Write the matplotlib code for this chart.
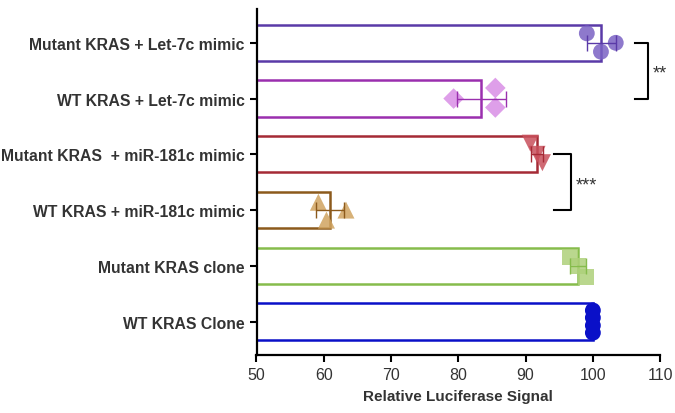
import numpy as np
import matplotlib.pyplot as plt

plt.rcParams['font.family'] = ['Liberation Sans', 'DejaVu Sans']

groups = [
    "Mutant KRAS + Let-7c mimic",
    "WT KRAS + Let-7c mimic",
    "Mutant KRAS  + miR-181c mimic",
    "WT KRAS + miR-181c mimic",
    "Mutant KRAS clone",
    "WT KRAS Clone",
]
values = [
    [99.1, 101.2, 103.4],
    [79.3, 85.5, 85.5],
    [90.7, 91.7, 92.5],
    [59.2, 60.4, 63.3],
    [96.6, 97.8, 99.0],
    [100.0, 100.0, 100.0, 100.0],
]
# vertical spread of the dots inside each bar (category units)
spread = [
    [-0.17, 0.16, 0.0],
    [0.0, -0.19, 0.16],
    [-0.2, 0.0, 0.15],
    [-0.14, 0.18, 0.0],
    [-0.16, 0.0, 0.2],
    [-0.2, -0.07, 0.07, 0.2],
]
edge_colors = ["#5a3aa8", "#9a2fae", "#a52a35", "#8c5a1c", "#86bc4c", "#0a10c8"]
dot_colors = ["#7a62c4", "#d98ee6", "#c8505c", "#d0a460", "#aed07a", "#0a10c8"]
markers = ["o", "D", "v", "^", "s", "o"]
sizes = [130, 110, 150, 150, 130, 130]

fig, ax = plt.subplots(figsize=(6.75, 4.14), dpi=100)
fig.subplots_adjust(left=0.38, right=0.978, top=0.975, bottom=0.14)

ypos = np.arange(len(groups))
for i, (vals, off) in enumerate(zip(values, spread)):
    vals = np.array(vals)
    mean = vals.mean()
    sd = vals.std(ddof=1)
    ax.barh(ypos[i], mean - 50, left=50, height=0.65, facecolor="white",
            edgecolor=edge_colors[i], linewidth=1.8, zorder=2)
    ax.scatter(vals, ypos[i] + np.array(off), marker=markers[i], s=sizes[i],
               color=dot_colors[i], alpha=0.85 if i < 5 else 1.0,
               edgecolors="none", zorder=3, clip_on=False)
    if sd > 0:
        ax.errorbar(mean, ypos[i], xerr=sd, color=edge_colors[i], lw=1.0,
                    capsize=6, capthick=1.0, zorder=4)

ax.set_xlim(50, 110)
ax.set_ylim(len(groups) - 0.4, -0.6)
ax.set_xticks(np.arange(50, 111, 10))
ax.set_yticks(ypos)
ax.set_yticklabels(groups)
ax.set_xlabel("Relative Luciferase Signal", fontsize=11, fontweight="bold",
              color="#333333", labelpad=5)
ax.tick_params(axis="both", width=1.5, length=5, colors="black",
               labelcolor="#333333")
ax.tick_params(axis="x", labelsize=11.5)
ax.tick_params(axis="y", labelsize=11.3)
for lab in ax.get_yticklabels():
    lab.set_fontweight("bold")
for s in ["top", "right"]:
    ax.spines[s].set_visible(False)
for s in ["left", "bottom"]:
    ax.spines[s].set_linewidth(1.6)

# significance brackets
def bracket(x0, x1, y0, y1, label, tx):
    ax.plot([x0, x1, x1, x0], [y0, y0, y1, y1], color="black", lw=1.5,
            clip_on=False, zorder=5)
    ax.text(tx, (y0 + y1) / 2 + 0.05, label, fontsize=13, va="center", ha="left",
            color="#333333", clip_on=False)

bracket(106.3, 108.2, 0.0, 1.0, "**", 108.9)
bracket(94.2, 96.8, 2.0, 3.0, "***", 97.4)

fig.savefig("out.png", dpi=100)
